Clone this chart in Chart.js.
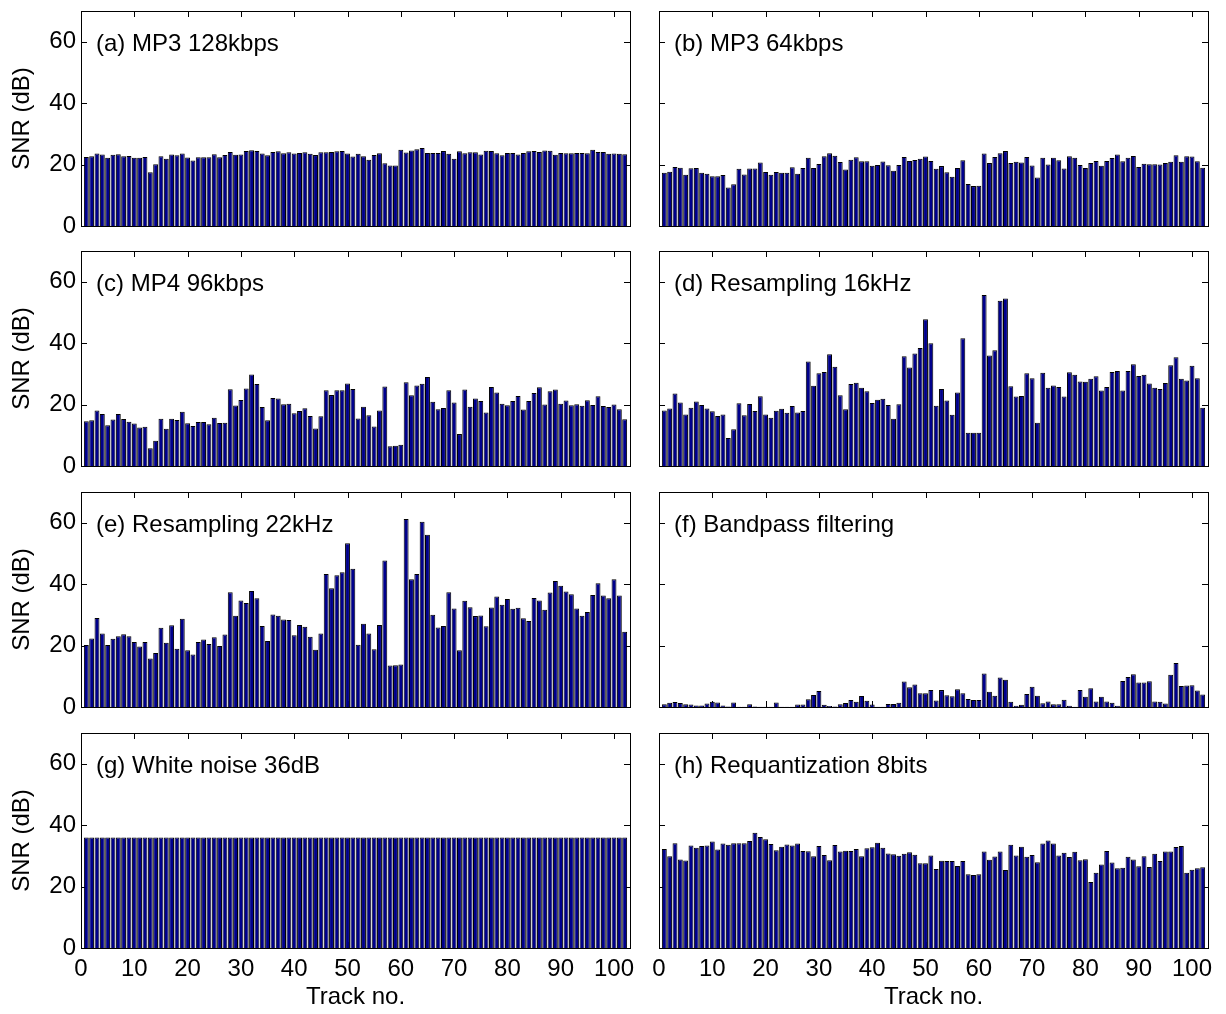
<!DOCTYPE html>
<html>
<head>
<meta charset="utf-8">
<script src="https://cdn.jsdelivr.net/npm/chart.js"></script>
<style>
  body { margin: 0; background: #fff; width: 1226px; height: 1014px; position: relative; overflow: hidden; }
  canvas { position: absolute; }
</style>
</head>
<body>
<canvas id="pa"></canvas>
<canvas id="pb"></canvas>
<canvas id="pc"></canvas>
<canvas id="pd"></canvas>
<canvas id="pe"></canvas>
<canvas id="pf"></canvas>
<canvas id="pg"></canvas>
<canvas id="ph"></canvas>
<script>
// track numbers (x) and axis ticks
const tracks = [1,2,3,4,5,6,7,8,9,10,11,12,13,14,15,16,17,18,19,20,
  21,22,23,24,25,26,27,28,29,30,31,32,33,34,35,36,37,38,39,40,
  41,42,43,44,45,46,47,48,49,50,51,52,53,54,55,56,57,58,59,60,
  61,62,63,64,65,66,67,68,69,70,71,72,73,74,75,76,77,78,79,80,
  81,82,83,84,85,86,87,88,89,90,91,92,93,94,95,96,97,98,99,100,101,102];
const xTicks = [0,10,20,30,40,50,60,70,80,90,100];
const yTicks = [0,20,40,60];

// SNR (dB) per track
const snrA = [22.5,22.7,23.6,23.3,22.2,23.2,23.4,22.7,22.8,22.2, 22.2,22.5,17.5,20.1,22.7,21.9,23.3,23.0,23.6,22.3,
  21.3,22.4,22.4,22.4,23.4,22.4,23.1,24.1,23.2,23.3, 24.4,24.7,24.4,23.6,23.0,24.1,24.3,23.7,24.0,23.6,
  23.8,24.0,23.5,23.1,24.0,24.0,24.1,24.3,24.4,23.6, 22.6,23.5,22.7,21.6,23.1,23.7,20.4,19.7,19.7,24.8,
  23.9,24.6,25.0,25.4,23.8,23.8,23.8,24.4,23.5,21.9, 24.3,23.7,24.0,24.0,23.3,24.5,24.4,23.7,23.0,23.8,
  23.8,23.3,23.8,24.3,24.4,24.1,24.6,24.5,23.2,23.8, 23.7,23.7,23.8,23.8,23.7,24.8,24.1,24.1,23.5,23.6, 23.5,23.4];
const snrB = [17.3,17.7,19.2,19.0,16.7,18.8,18.9,17.3,17.0,16.2, 16.2,16.6,12.5,13.6,18.6,16.8,18.7,18.7,20.7,17.6,
  16.7,17.6,17.3,17.3,19.1,17.0,18.9,22.2,18.9,20.2, 22.7,23.7,22.9,20.8,18.4,21.6,22.4,21.1,21.1,19.6,
  19.9,21.0,19.8,18.0,19.9,22.5,21.2,21.5,21.9,22.6, 21.2,18.6,19.5,17.5,16.0,18.9,21.4,13.7,13.0,13.1,
  23.6,20.5,22.5,23.7,24.4,20.5,20.9,20.7,22.5,19.7, 15.8,22.2,20.0,22.2,21.4,18.7,22.7,22.2,19.9,18.9,
  20.5,21.2,19.6,21.2,22.1,23.3,21.1,22.2,22.8,19.2, 20.3,20.1,20.1,20.0,20.5,20.9,23.0,20.9,22.7,22.6, 21.1,19.0];
const snrC = [14.6,14.9,18.1,16.9,13.3,15.1,16.9,15.3,14.4,13.8, 12.5,12.8,5.8,8.2,15.4,12.1,15.4,15.0,17.7,13.9,
  13.0,14.3,14.3,13.6,15.7,14.0,14.1,25.0,19.7,21.5, 25.2,29.8,26.7,19.2,14.9,22.1,22.0,20.1,20.3,17.2,
  17.9,18.8,16.3,12.2,16.2,24.7,23.1,24.7,24.7,26.9, 25.1,15.5,19.3,16.5,12.9,18.1,25.9,6.4,6.6,6.9,
  27.3,23.0,26.2,26.8,29.0,20.9,18.5,18.9,24.7,20.7, 10.4,24.9,19.3,22.0,21.2,17.4,25.7,23.9,20.3,19.8,
  21.2,22.8,18.4,21.2,23.8,25.6,20.0,24.3,24.9,20.3, 21.3,19.8,20.1,19.6,21.4,19.9,22.7,19.5,19.2,20.0, 18.5,15.2];
const snrD = [18.1,18.7,23.6,20.7,16.8,19.0,21.0,19.9,18.7,17.8, 16.3,16.8,9.1,12.0,20.4,16.5,20.2,17.9,22.7,16.8,
  15.7,18.0,18.6,17.3,19.5,17.4,17.9,34.0,26.1,30.2, 30.6,36.4,32.3,23.0,18.5,26.7,27.1,25.5,24.3,20.5,
  21.6,21.9,19.9,15.4,20.1,35.7,32.1,36.6,38.4,47.8, 40.0,19.6,25.1,21.3,16.7,23.9,41.6,10.8,10.8,10.8,
  55.7,36.0,37.7,53.8,54.5,26.0,22.6,22.8,30.2,28.6, 14.1,30.4,25.5,26.2,25.7,22.6,30.5,29.7,27.5,27.4,
  28.4,29.2,24.6,25.7,30.6,30.9,24.6,30.9,33.1,29.3, 29.7,26.9,25.5,25.1,27.0,32.8,35.4,28.4,27.8,32.6, 28.6,19.0];
const snrE = [20.2,22.3,29.0,23.9,20.2,22.2,23.0,23.7,23.0,21.2, 19.7,21.2,15.8,17.6,25.8,20.9,26.6,19.0,28.7,18.5,
  17.1,21.2,22.0,20.5,22.7,19.9,23.6,37.4,29.7,34.7, 33.9,37.8,35.4,26.4,21.5,30.1,29.7,28.5,28.3,23.4,
  26.7,26.1,22.9,18.6,23.9,43.3,38.7,42.9,43.9,53.3, 45.0,20.3,27.1,23.9,18.8,26.7,47.7,13.5,13.6,13.8,
  61.2,41.6,43.3,60.3,56.1,30.0,25.9,26.4,37.4,32.1, 18.5,34.6,32.5,29.6,29.8,26.3,32.4,36.0,33.3,35.2,
  32.0,32.3,28.9,28.0,35.5,34.7,31.7,37.3,41.0,39.5, 37.6,36.7,32.1,29.7,30.9,36.5,40.3,36.3,35.4,41.6, 36.3,24.5];
const snrF = [0.9,1.4,1.6,1.3,0.9,0.8,0.5,0.5,1.1,1.7, 1.5,0.5,0.2,1.5,0.1,0.1,0.9,0.2,0.1,0.1,
  0.1,1.5,0.1,0.1,0.1,0.8,0.8,2.5,3.9,5.2, 0.7,0.3,0.2,0.9,1.3,2.3,1.7,3.6,2.0,0.8,
  0.1,0.1,1.0,1.0,1.4,8.3,6.4,7.3,4.5,4.5, 5.5,2.1,5.5,3.8,3.5,5.8,4.5,2.6,2.3,2.3,
  10.9,5.0,3.7,9.6,8.9,1.7,0.4,0.7,4.2,6.6, 3.7,1.2,1.8,0.9,0.9,2.4,0.4,0.1,5.5,3.3,
  6.1,1.8,3.3,1.8,1.4,0.4,8.5,9.8,10.7,8.0, 8.0,8.4,1.8,1.7,1.1,10.5,14.3,6.8,7.0,7.1, 5.4,4.1];
const snrG = [36,36,36,36,36,36,36,36,36,36, 36,36,36,36,36,36,36,36,36,36,
  36,36,36,36,36,36,36,36,36,36, 36,36,36,36,36,36,36,36,36,36,
  36,36,36,36,36,36,36,36,36,36, 36,36,36,36,36,36,36,36,36,36,
  36,36,36,36,36,36,36,36,36,36, 36,36,36,36,36,36,36,36,36,36,
  36,36,36,36,36,36,36,36,36,36, 36,36,36,36,36,36,36,36,36,36, 36,36];
const snrH = [32.2,29.9,34.1,28.8,28.5,33.4,32.6,33.2,33.4,34.7, 32.1,34.0,33.6,34.1,34.1,34.1,34.8,37.5,36.1,35.4,
  33.9,31.8,33.0,33.7,33.4,34.0,31.6,31.5,29.9,33.2, 30.3,28.6,33.5,31.4,31.7,31.6,32.2,29.9,32.5,32.8,
  34.3,32.6,30.8,30.5,30.0,30.7,31.2,30.4,27.6,27.6, 30.1,25.7,28.4,28.3,28.3,26.7,28.3,24.0,23.8,24.0,
  31.4,28.7,29.8,31.4,25.4,33.6,30.1,33.0,29.7,30.3, 27.9,34.0,35.0,34.0,30.1,31.0,29.6,31.3,28.6,28.9,
  21.5,24.5,27.2,31.6,27.8,26.0,26.1,29.7,28.8,26.6, 29.9,26.4,30.7,28.3,31.4,31.4,32.9,33.2,24.5,25.5, 26.0,26.3];

const panels = [
  { id: 'pa', label: '(a) MP3 128kbps',         values: snrA, col: 0, row: 0 },
  { id: 'pb', label: '(b) MP3 64kbps',          values: snrB, col: 1, row: 0 },
  { id: 'pc', label: '(c) MP4 96kbps',          values: snrC, col: 0, row: 1 },
  { id: 'pd', label: '(d) Resampling 16kHz',    values: snrD, col: 1, row: 1 },
  { id: 'pe', label: '(e) Resampling 22kHz',    values: snrE, col: 0, row: 2 },
  { id: 'pf', label: '(f) Bandpass filtering',  values: snrF, col: 1, row: 2 },
  { id: 'pg', label: '(g) White noise 36dB',    values: snrG, col: 0, row: 3 },
  { id: 'ph', label: '(h) Requantization 8bits', values: snrH, col: 1, row: 3 }
];

Chart.defaults.font.family = '"Liberation Sans", Arial, sans-serif';
Chart.defaults.color = '#000';

// matlab-ish box with inward ticks + panel caption
const frame = {
  id: 'frame',
  beforeDatasetsDraw(chart) {
    const { ctx, chartArea: a, scales: { x, y } } = chart;
    ctx.save();
    ctx.strokeStyle = '#000';
    ctx.lineWidth = 1;
    ctx.beginPath();
    xTicks.forEach(v => {
      const px = Math.round(x.getPixelForValue(v)) + 0.5;
      ctx.moveTo(px, a.top); ctx.lineTo(px, a.top + 6);
      ctx.moveTo(px, a.bottom); ctx.lineTo(px, a.bottom - 6);
    });
    yTicks.forEach(v => {
      const py = Math.round(y.getPixelForValue(v)) + 0.5;
      ctx.moveTo(a.left, py); ctx.lineTo(a.left + 6, py);
      ctx.moveTo(a.right, py); ctx.lineTo(a.right - 6, py);
    });
    ctx.stroke();
    ctx.restore();
  },
  afterDatasetsDraw(chart, args, opts) {
    const { ctx, chartArea: a, scales: { y } } = chart;
    ctx.save();
    ctx.strokeStyle = '#000';
    ctx.lineWidth = 1;
    ctx.strokeRect(Math.round(a.left) + 0.5, Math.round(a.top) + 0.5,
      Math.round(a.right - a.left), Math.round(a.bottom - a.top));
    ctx.font = '24px "Liberation Sans", Arial, sans-serif';
    ctx.fillStyle = '#000';
    ctx.textBaseline = 'middle';
    ctx.fillText(opts.label, a.left + 15, y.getPixelForValue(60) + 3);
    ctx.restore();
  }
};

const colLeft = [0, 640], colWidth = [640, 586];
const rowTop = [0, 240, 481, 722], rowHeight = [240, 240, 240, 292];

panels.forEach(p => {
  const cv = document.getElementById(p.id);
  const left = p.col === 0, bottom = p.row === 3;
  cv.width = colWidth[p.col];
  cv.height = rowHeight[p.row];
  cv.style.left = colLeft[p.col] + 'px';
  cv.style.top = rowTop[p.row] + 'px';

  new Chart(cv, {
    type: 'bar',
    data: {
      datasets: [{
        data: tracks.map((t, i) => ({ x: t, y: p.values[i] })),
        backgroundColor: '#00008c',
        borderColor: '#000',
        borderWidth: 1,
        barPercentage: 0.92,
        categoryPercentage: 1
      }]
    },
    plugins: [frame],
    options: {
      responsive: false,
      animation: false,
      layout: { padding: { top: 11, right: left ? 10 : 18, bottom: 0, left: 0 } },
      plugins: {
        legend: { display: false },
        tooltip: { enabled: false },
        frame: { label: p.label }
      },
      scales: {
        x: {
          type: 'linear',
          offset: false,
          min: 0,
          max: 103,
          afterBuildTicks: s => { s.ticks = xTicks.map(v => ({ value: v })); },
          afterFit: s => { s.height = bottom ? 66 : 14; s.paddingLeft = 0; s.paddingRight = 0; },
          grid: { display: false, drawTicks: false, offset: false },
          border: { display: false },
          ticks: { display: bottom, font: { size: 24 }, padding: 7, maxRotation: 0, autoSkip: false },
          title: { display: bottom, text: 'Track no.', font: { size: 24 }, padding: { top: 0, bottom: 2 } }
        },
        y: {
          min: 0,
          max: 70,
          afterBuildTicks: s => { s.ticks = yTicks.map(v => ({ value: v })); },
          afterFit: s => { s.width = left ? 81 : 19; s.paddingTop = 0; s.paddingBottom = 0; },
          grid: { display: false, drawTicks: false },
          border: { display: false },
          ticks: { display: left, font: { size: 24 }, padding: 5 },
          title: { display: left, text: 'SNR (dB)', font: { size: 24 }, padding: { top: 8, bottom: 0 } }
        }
      }
    }
  });
});
</script>
</body>
</html>
